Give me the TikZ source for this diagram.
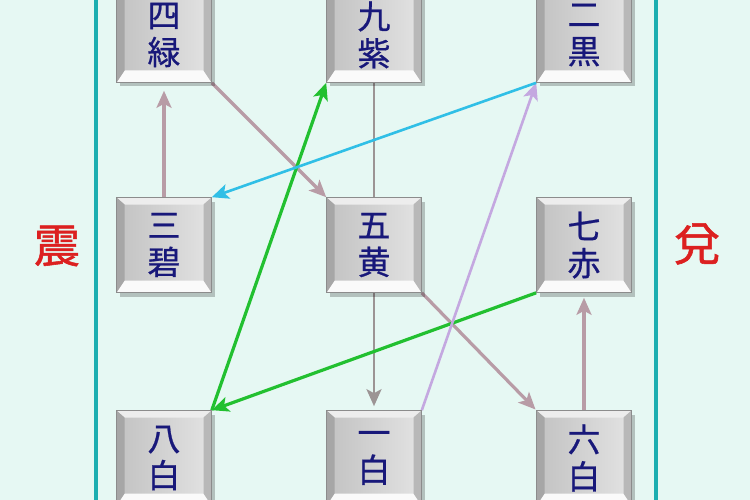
\documentclass[tikz,border=0pt]{standalone}
\usepackage{fontspec}
\newfontfamily\cjk{Noto Sans CJK JP}[FakeBold=0.7]
\newfontfamily\cjkred{Noto Sans CJK JP}[FakeBold=1.2]
\usetikzlibrary{arrows.meta,shadows}
\definecolor{bgc}{HTML}{E6F8F3}
\definecolor{teal1}{HTML}{1CAEB0}
\definecolor{navy}{HTML}{18187A}
\definecolor{redlbl}{HTML}{DC2020}
\definecolor{rosy}{HTML}{B89CA6}
\definecolor{grayline}{HTML}{9C9494}
\definecolor{lav}{HTML}{C4A8E0}
\definecolor{cyanl}{HTML}{30BFE6}
\definecolor{greenl}{HTML}{22C030}
\definecolor{edgeg}{HTML}{8C8C8C}
\pgfdeclarelayer{bgl}
\pgfdeclarelayer{arr}
\pgfsetlayers{bgl,arr,main}
\def\pb{path picture bounding box}
\tikzset{
  btn/.style={minimum width=95pt, minimum height=95pt, inner sep=0pt,
    left color=black!24, right color=black!11, draw=edgeg, line width=0.6pt,
    text=navy, align=center, font=\cjk\fontsize{33}{37}\selectfont,
    drop shadow={opacity=0.22, shadow xshift=3pt, shadow yshift=-4pt, fill=black},
    path picture={
      \fill[black!7] (\pb.north west) -- (\pb.north east) -- ([xshift=-8pt,yshift=-7pt]\pb.north east) -- ([xshift=8pt,yshift=-7pt]\pb.north west) -- cycle;
      \fill[black!2] (\pb.south west) -- (\pb.south east) -- ([xshift=-8pt,yshift=12pt]\pb.south east) -- ([xshift=8pt,yshift=12pt]\pb.south west) -- cycle;
      \fill[black!35] (\pb.north west) -- ([xshift=8pt,yshift=-7pt]\pb.north west) -- ([xshift=8pt,yshift=12pt]\pb.south west) -- (\pb.south west) -- cycle;
      \fill[black!28] (\pb.north east) -- ([xshift=-8pt,yshift=-7pt]\pb.north east) -- ([xshift=-8pt,yshift=12pt]\pb.south east) -- (\pb.south east) -- cycle;
    }},
  lbl/.style={text=redlbl, font=\cjkred\fontsize{46}{46}\selectfont},
  arw/.style={line width=3.2pt, -{Stealth[length=17pt,width=15pt,inset=4pt]}},
  teal line/.style={draw=teal1, line width=4pt}
}
\begin{document}
\begin{tikzpicture}[x=1pt,y=-1pt]
\begin{pgfonlayer}{bgl}
\fill[bgc] (0,0) rectangle (750,500);
\end{pgfonlayer}
\useasboundingbox (0,0) rectangle (750,500);
\coordinate (lt) at (96,0);
\coordinate (lb) at (96,500);
\coordinate (rt) at (656,0);
\coordinate (rb) at (656,500);
\begin{pgfonlayer}{bgl}
\draw[teal line] (lt) -- (lb);
\draw[teal line] (rt) -- (rb);
\end{pgfonlayer}
\node[lbl] (zhen) at (57,246) {震};
\node[lbl] (dui) at (697,244) {兌};
\node[btn] (s4) at (164,35) {四\\緑};
\node[btn] (s9) at (374,35) {九\\紫};
\node[btn] (s2) at (584,35) {二\\黒};
\node[btn] (s3) at (164,245) {三\\碧};
\node[btn] (s5) at (374,245) {五\\黄};
\node[btn] (s7) at (584,245) {七\\赤};
\node[btn] (s8) at (164,458) {八\\白};
\node[btn] (s1) at (374,458) {一\\白};
\node[btn] (s6) at (584,458) {六\\白};
\begin{pgfonlayer}{arr}
\draw[arw, draw=grayline, line width=2.6pt, shorten >=4pt] (s9.south) -- (s1.north);
\draw[arw, draw=rosy, shorten >=8pt] (s3.north) -- (s4.south);
\draw[arw, draw=rosy] (s4.south east) -- (s5.north west);
\draw[arw, draw=rosy, shorten >=1pt] (s5.south east) -- (s6.north west);
\draw[arw, draw=rosy, shorten >=5pt] (s6.north) -- (s7.south);
\draw[arw, draw=greenl] (s7.south west) -- (s8.north east);
\draw[arw, draw=greenl] (s8.north east) -- (s9.south west);
\draw[arw, draw=lav, line width=2.6pt] (s1.north east) -- (s2.south west);
\draw[arw, draw=cyanl, line width=2.6pt] (s2.south west) -- (s3.north east);
\end{pgfonlayer}
\end{tikzpicture}
\end{document}
